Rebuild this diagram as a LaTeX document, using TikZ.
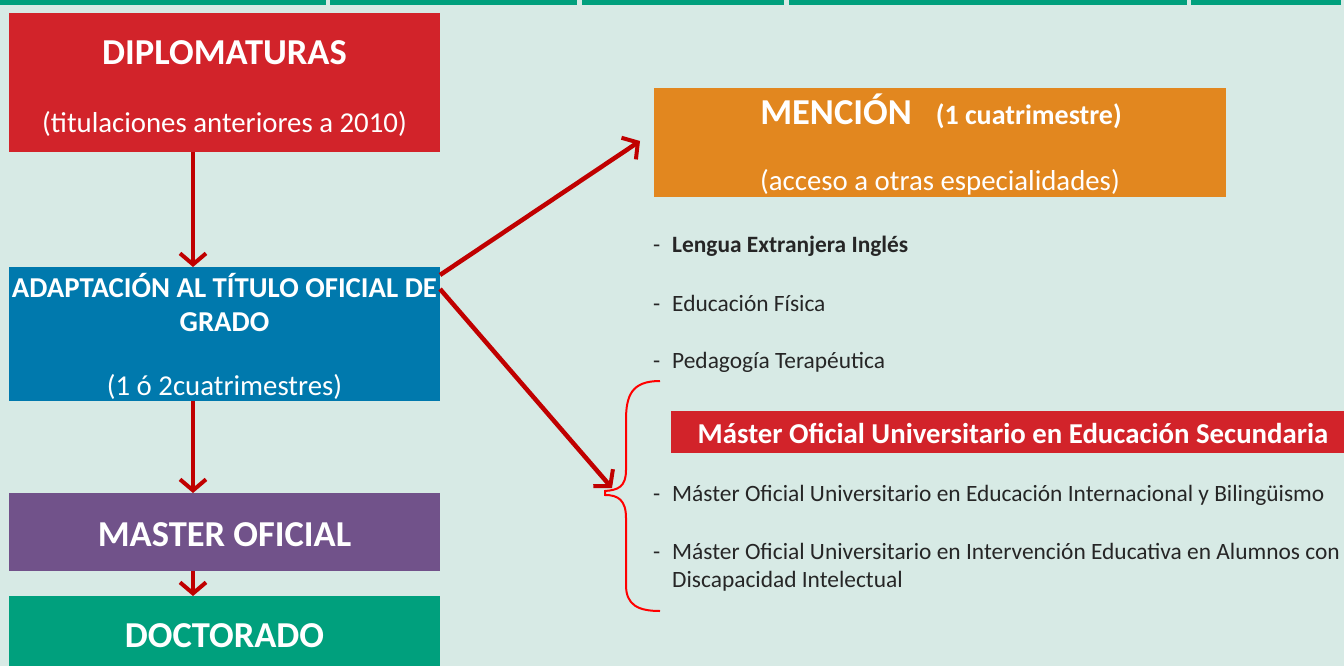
\documentclass[tikz,border=0pt]{standalone}
\usepackage{fontspec}
\setmainfont{Carlito}
\usetikzlibrary{arrows.meta}
\definecolor{bgc}{HTML}{D7EAE5}
\definecolor{topg}{HTML}{00A07D}
\definecolor{dipred}{HTML}{D2232A}
\definecolor{adblue}{HTML}{0079AD}
\definecolor{mpurp}{HTML}{71528A}
\definecolor{docg}{HTML}{00A07D}
\definecolor{menor}{HTML}{E2871F}
\definecolor{arr}{HTML}{C00000}
\definecolor{txt}{HTML}{262626}
\tikzset{
  box/.style={draw=none, inner sep=0pt, outer sep=0pt},
  wt/.style={text=white, inner sep=0pt, anchor=base, font=\fontsize{28.8}{34}\selectfont},
  wtb/.style={text=white, inner sep=0pt, anchor=base, font=\fontsize{28.8}{34}\selectfont\bfseries},
  wtbig/.style={text=white, inner sep=0pt, anchor=base, font=\fontsize{36.5}{42}\selectfont\bfseries},
  item/.style={text=txt, inner sep=0pt, anchor=base west, font=\fontsize{23.4}{28}\selectfont},
  conn/.style={draw=arr, line width=4.5pt, -{Straight Barb[length=11pt,width=26pt,line width=4pt]}},
}
\begin{document}
\begin{tikzpicture}[x=1pt,y=-1pt]
\fill[bgc] (0,0) rectangle (1344,666);
\useasboundingbox (0,0) rectangle (1344,666);
% top strip
\fill[topg] (0,0) rectangle (326,5);
\fill[topg] (330,0) rectangle (577,5);
\fill[topg] (582,0) rectangle (784,5);
\fill[topg] (789,0) rectangle (1187,5);
\fill[topg] (1191,0) rectangle (1341,5);
% boxes
\node[box, fill=dipred, minimum width=431, minimum height=139] (dip) at (224.5,82.5) {};
\node[box, fill=adblue, minimum width=431, minimum height=134] (adapt) at (224.5,334) {};
\node[box, fill=mpurp, minimum width=431, minimum height=78] (master) at (224.5,532) {};
\node[box, fill=docg, minimum width=431, minimum height=70] (doct) at (224.5,631) {};
\node[box, fill=menor, minimum width=572, minimum height=109] (mencion) at (940,142.5) {};
\node[box, fill=dipred, minimum width=673, minimum height=42] (banner) at (1007.5,432) {};
% box texts
\node[wtbig] (tdip) at (224.5,65) {DIPLOMATURAS};
\node[wt] (tdip2) at (224.5,132) {(titulaciones anteriores a 2010)};
\node[wtb] (tad1) at (224.5,297) {ADAPTACIÓN AL TÍTULO OFICIAL DE};
\node[wtb] (tad2) at (224.5,331) {GRADO};
\node[wt] (tad3) at (224.5,395) {(1 ó 2cuatrimestres)};
\node[wtbig] (tmas) at (224.5,546) {MASTER OFICIAL};
\node[wtbig] (tdoc) at (224.5,647) {DOCTORADO};
\node[wtbig] (tmen) at (941,125) {MENCIÓN\hspace{24pt}{\fontsize{28}{34}\selectfont(1 cuatrimestre)}};
\node[wt] (tmen2) at (940,190) {(acceso a otras especialidades)};
\node[wtb] (tban) at (1013,443) {Máster Oficial Universitario en Educación Secundaria};
% lists
\node[item] (d1) at (653,252) {-};
\node[item] (l1) at (672,252) {\bfseries Lengua Extranjera Inglés};
\node[item] (d2) at (653,311) {-};
\node[item] (l2) at (672,311) {Educación Física};
\node[item] (d3) at (653,368) {-};
\node[item] (l3) at (672,368) {Pedagogía Terapéutica};
\node[item] (d4) at (653,501) {-};
\node[item] (l4) at (672,501) {Máster Oficial Universitario en Educación Internacional y Bilingüismo};
\node[item] (d5) at (653,559) {-};
\node[item] (l5) at (672,559) {Máster Oficial Universitario en Intervención Educativa en Alumnos con};
\node[item] (l6) at (672,587) {Discapacidad Intelectual};
% connectors
\coordinate (ax) at (193,0);
\draw[conn] (dip.south -| ax) -- (adapt.north -| ax);
\draw[conn] (adapt.south -| ax) -- (master.north -| ax);
\draw[conn] (master.south -| ax) -- (doct.north -| ax);
\coordinate (s1) at (440,275);
\coordinate (s2) at (440,289);
\coordinate (e1) at (640,141);
\coordinate (e2) at (612,488);
\draw[conn] (s1) -- (e1);
\draw[conn] (s2) -- (e2);
% brace
\draw[red, line width=2pt] (660,381) .. controls (632,381) and (626,395) .. (626,420) -- (626,470)
  .. controls (626,487) and (618,490) .. (605,491) -- (605,495)
  .. controls (618,495) and (626,500) .. (626,518) -- (626,585)
  .. controls (626,605) and (638,611) .. (660,611);
\end{tikzpicture}
\end{document}
